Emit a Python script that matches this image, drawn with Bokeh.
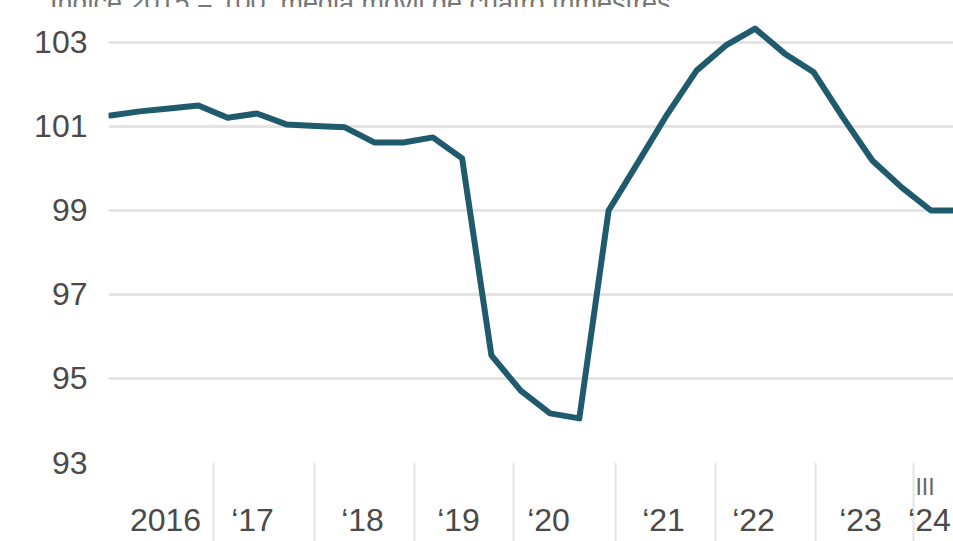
from bokeh.plotting import figure
from bokeh.models import FixedTicker, Range1d, LinearAxis, Div
from bokeh.layouts import column
from bokeh.embed import file_html
from bokeh.resources import INLINE

# Quarterly index (2015 = 100), four-quarter moving average
quarter_idx = list(range(30))
index_values = [101.26, 101.36, 101.43, 101.50, 101.21, 101.31, 101.05, 101.01,
                100.98, 100.62, 100.62, 100.74, 100.24, 95.55, 94.71, 94.17,
                94.05, 99.00, 100.14, 101.29, 102.33, 102.93, 103.33, 102.74,
                102.29, 101.21, 100.19, 99.55, 99.00, 99.00]

subtitle = "Índice 2015 = 100, media móvil de cuatro trimestres"

# x-axis: year labels and year separators (in quarter-index units)
year_labels = ["2016", "\u201817", "\u201818", "\u201819", "\u201820",
               "\u201821", "\u201822", "\u201823", "\u201824"]
label_pos = [1.877, 4.846, 8.601, 11.877, 14.949, 18.874, 21.945, 25.597, 27.95]
sep_pos = [3.515, 6.962, 10.375, 13.754, 17.235, 20.648, 24.061, 27.406]
y_ticks = [93, 95, 97, 99, 101, 103]
quarter_mark = "III"
quarter_mark_pos = 27.80

TXT = "#4a4a4a"
FONT = "Liberation Sans"
GRID = "#e4e4e4"

head = Div(text=('<div style="margin-top:-17px;padding-left:50px;font-family:\'Liberation Sans\';'
                 'font-size:27px;line-height:27px;color:#777;white-space:nowrap;">'
                 + subtitle + '</div>'),
           width=953, height=7, styles={"overflow": "hidden", "margin": "0"})

p = figure(width=953, height=534, output_backend="svg", toolbar_location=None,
           x_range=Range1d(-0.068, 28.77), y_range=Range1d(93, 103.833),
           x_axis_location=None,
           min_border_left=108, min_border_right=0, min_border_top=0,
           min_border_bottom=79)
p.outline_line_color = None
p.background_fill_color = "white"
p.border_fill_color = "white"

p.line(quarter_idx, index_values, line_color="#1f5a6d", line_width=6,
       line_join="round", line_cap="round")

# y axis
p.yaxis.ticker = FixedTicker(ticks=y_ticks)
p.yaxis.axis_line_color = None
p.yaxis.major_tick_line_color = None
p.yaxis.minor_tick_line_color = None
p.yaxis.major_label_standoff = 15
p.yaxis.major_label_text_font = FONT
p.yaxis.major_label_text_font_size = "32px"
p.yaxis.major_label_text_color = TXT

p.ygrid.ticker = FixedTicker(ticks=y_ticks)
p.ygrid.grid_line_color = GRID
p.ygrid.grid_line_width = 3
p.xgrid.visible = False

# axis A: year separators (minor ticks) + quarter mark
ax_a = LinearAxis(ticker=FixedTicker(ticks=[quarter_mark_pos], minor_ticks=sep_pos))
ax_a.major_label_overrides = {quarter_mark_pos: quarter_mark}
ax_a.axis_line_color = None
ax_a.major_tick_out = 0
ax_a.major_tick_in = 0
ax_a.major_tick_line_color = None
ax_a.minor_tick_in = 0
ax_a.minor_tick_out = 79
ax_a.minor_tick_line_color = GRID
ax_a.minor_tick_line_width = 2
ax_a.major_label_standoff = -68
ax_a.major_label_text_font = FONT
ax_a.major_label_text_font_size = "23px"
ax_a.major_label_text_color = "#666666"
p.add_layout(ax_a, "below")

# axis B: year labels
ax_b = LinearAxis(ticker=FixedTicker(ticks=label_pos))
ax_b.major_label_overrides = {pos: lab for pos, lab in zip(label_pos, year_labels)}
ax_b.axis_line_color = None
ax_b.major_tick_out = 0
ax_b.major_tick_in = 0
ax_b.major_tick_line_color = None
ax_b.minor_tick_out = 0
ax_b.minor_tick_in = 0
ax_b.minor_tick_line_color = None
ax_b.major_label_standoff = -1
ax_b.major_label_text_font = FONT
ax_b.major_label_text_font_size = "32px"
ax_b.major_label_text_color = TXT
p.add_layout(ax_b, "below")

layout = column(head, p, spacing=0)

open("out.html", "w").write(file_html(layout, INLINE))
